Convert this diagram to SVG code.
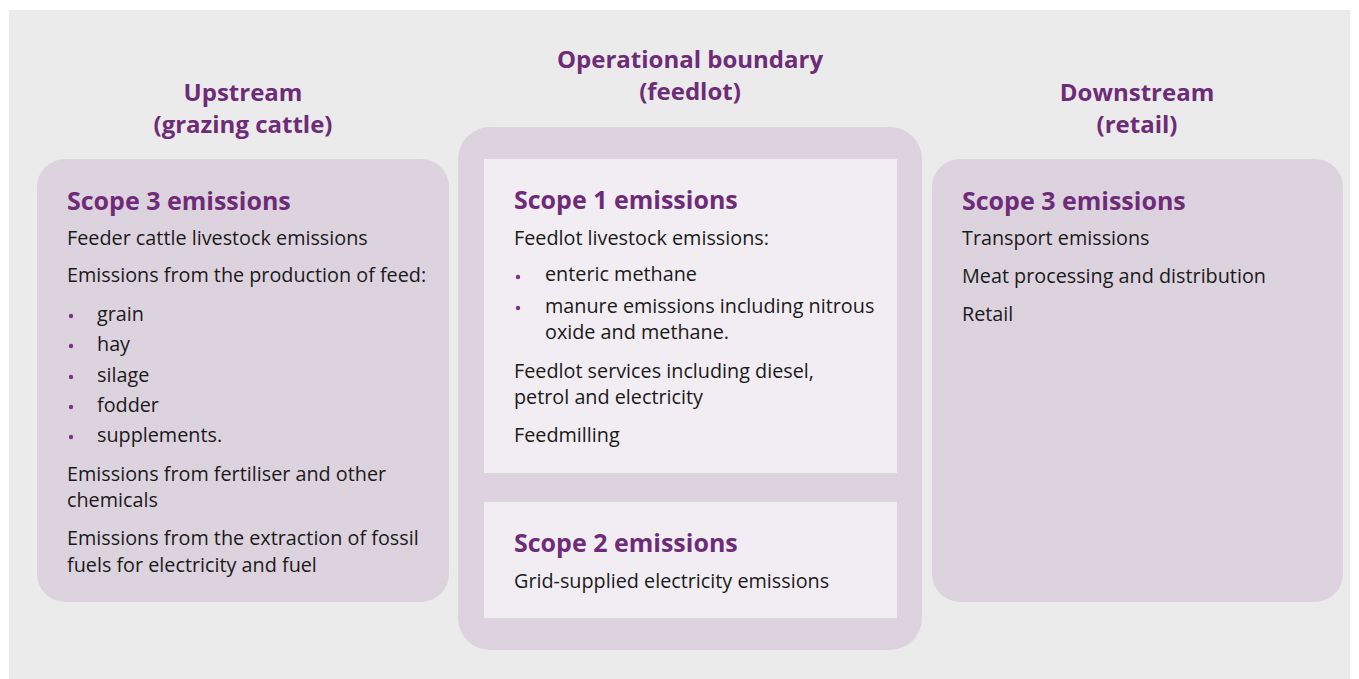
<svg xmlns="http://www.w3.org/2000/svg" width="1359" height="679" viewBox="0 0 1359 679">
<style>
.bg{fill:#ebebeb}
.box{fill:#ddd3df}
.inner{fill:#f1edf2}
.title{font-family:"Open Sans","Liberation Sans",sans-serif;font-weight:bold;font-size:24px;fill:#6e2c78;text-anchor:middle}
.head{font-family:"Open Sans","Liberation Sans",sans-serif;font-weight:bold;font-size:25px;fill:#6e2c78}
.t{font-family:"Open Sans","Liberation Sans",sans-serif;font-size:19.8px;fill:#1a1a1a}
.dot{fill:#7a3585}
</style>
<rect class="bg" x="9" y="10" width="1341" height="669"/>
<g id="upstream">
<text class="title" x="243" y="101">Upstream</text>
<text class="title" x="243" y="133">(grazing cattle)</text>
<rect class="box" x="37" y="159" width="412" height="443" rx="28"/>
<text class="head" x="67" y="210">Scope 3 emissions</text>
<text class="t" x="67" y="245">Feeder cattle livestock emissions</text>
<text class="t" x="67" y="282">Emissions from the production of feed:</text>
<circle class="dot" cx="71" cy="316" r="2.2"/><text class="t" x="97" y="321">grain</text>
<circle class="dot" cx="71" cy="346" r="2.2"/><text class="t" x="97" y="351">hay</text>
<circle class="dot" cx="71" cy="377" r="2.2"/><text class="t" x="97" y="382">silage</text>
<circle class="dot" cx="71" cy="407" r="2.2"/><text class="t" x="97" y="412">fodder</text>
<circle class="dot" cx="71" cy="437" r="2.2"/><text class="t" x="97" y="442">supplements.</text>
<text class="t" x="67" y="481">Emissions from fertiliser and other</text>
<text class="t" x="67" y="507">chemicals</text>
<text class="t" x="67" y="545">Emissions from the extraction of fossil</text>
<text class="t" x="67" y="572">fuels for electricity and fuel</text>
</g>
<g id="operational">
<text class="title" x="690" y="68">Operational boundary</text>
<text class="title" x="690" y="100">(feedlot)</text>
<rect class="box" x="458" y="127" width="464" height="523" rx="32"/>
</g>
<g id="scope1">
<rect class="inner" x="484" y="159" width="413" height="314"/>
<text class="head" x="514" y="209">Scope 1 emissions</text>
<text class="t" x="514" y="245">Feedlot livestock emissions:</text>
<circle class="dot" cx="518" cy="277" r="2.2"/><text class="t" x="545" y="281">enteric methane</text>
<circle class="dot" cx="518" cy="308" r="2.2"/><text class="t" x="545" y="313">manure emissions including nitrous</text>
<text class="t" x="545" y="339">oxide and methane.</text>
<text class="t" x="514" y="378">Feedlot services including diesel,</text>
<text class="t" x="514" y="404">petrol and electricity</text>
<text class="t" x="514" y="442">Feedmilling</text>
</g>
<g id="scope2">
<rect class="inner" x="484" y="502" width="413" height="116"/>
<text class="head" x="514" y="552">Scope 2 emissions</text>
<text class="t" x="514" y="588">Grid-supplied electricity emissions</text>
</g>
<g id="downstream">
<text class="title" x="1137" y="101">Downstream</text>
<text class="title" x="1137" y="133">(retail)</text>
<rect class="box" x="932" y="159" width="411" height="443" rx="28"/>
<text class="head" x="962" y="210">Scope 3 emissions</text>
<text class="t" x="962" y="245">Transport emissions</text>
<text class="t" x="962" y="283">Meat processing and distribution</text>
<text class="t" x="962" y="321">Retail</text>
</g>
<g id="connectors"/>
</svg>
